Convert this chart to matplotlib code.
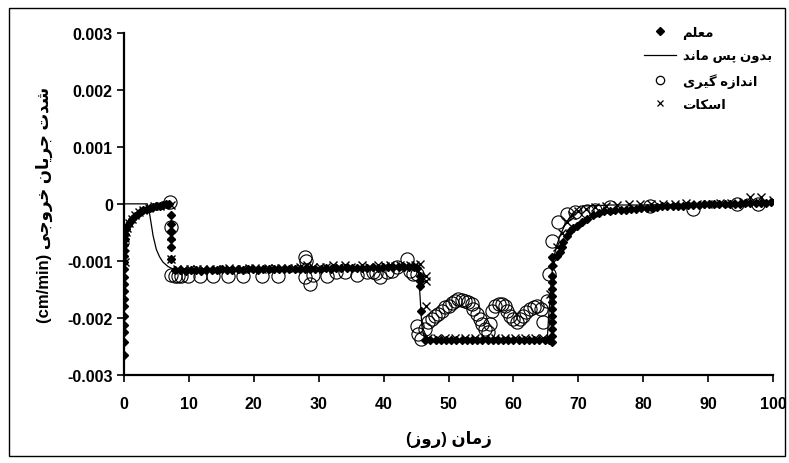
import matplotlib
matplotlib.use("Agg")
import matplotlib.pyplot as plt
from matplotlib.lines import Line2D
from matplotlib.patches import Rectangle

plt.rcParams['font.family'] = ['Liberation Sans', 'DejaVu Sans']
plt.rcParams['font.weight'] = 'bold'

# ---- data (time in days, flux in cm/min) ----
# Moallem model (filled diamonds)
t_moallem = [0, 0, 0, 0, 0, 0, 0, 0, 0, 0, 0, 0, 0, 0, 0, 0.1, 0.2,
             0.4, 0.7, 1.0, 1.3, 1.7, 2.1, 2.5, 3.0, 3.5, 4.0, 4.5, 5.0, 5.5, 6.0, 6.5, 7.0,
             7.3, 7.3, 7.3, 7.3, 7.3, 7.3,
             7.9, 8.7, 9.5, 10.3, 11.1, 11.9, 12.7, 13.5, 14.3, 15.1, 15.9, 16.7, 17.5, 18.3,
             19.1, 19.9, 20.7, 21.5, 22.3, 23.1, 23.9, 24.7, 25.5, 26.3, 27.1, 27.9, 28.7, 29.5,
             30.3, 31.1, 31.9, 32.7, 33.5, 34.3, 35.1, 35.9, 36.7, 37.5, 38.3, 39.1, 39.9, 40.7,
             41.5, 42.3, 43.1, 43.9, 44.7, 45.2,
             45.6, 45.6, 45.6, 45.8,
             46.4, 47.2, 48.0, 48.8, 49.6, 50.4, 51.2, 52.0, 52.8, 53.6, 54.4, 55.2, 56.0, 56.8,
             57.6, 58.4, 59.2, 60.0, 60.8, 61.6, 62.4, 63.2, 64.0, 64.8, 65.4,
             66.0, 66.0, 66.0, 66.0, 66.0, 66.0, 66.0, 66.0, 66.0, 66.0, 66.0, 66.0, 66.0,
             66.7, 67.2, 67.4, 67.7, 68.2, 68.7, 69.2, 69.8, 70.5, 71.3, 72.3, 73.1, 73.9,
             74.9, 75.7, 76.5, 77.3, 78.1, 78.9, 79.7, 80.5, 81.3, 82.1, 82.9, 83.7, 84.5,
             85.3, 86.1, 86.9, 87.7, 88.5, 89.3, 90.1, 90.9, 91.7, 92.5, 93.3, 94.1, 94.9,
             95.7, 96.5, 97.3, 98.1, 98.9, 99.7]
q_moallem = [-0.00265, -0.00243, -0.00224, -0.00213, -0.00196, -0.00180, -0.00167, -0.00153,
             -0.00140, -0.00128, -0.00114, -0.00102, -0.00091, -0.00082, -0.00072, -0.00062, -0.00053,
             -0.00044, -0.00037, -0.00031, -0.00026, -0.00021, -0.00017, -0.00014, -0.00011,
             -0.00009, -0.00007, -0.00006, -0.00004, -0.00003, -0.00002, -0.00001, -0.00001,
             -0.00020, -0.00036, -0.00047, -0.00061, -0.00076, -0.00096,
             -0.00116, -0.00116, -0.00117, -0.00116, -0.00116, -0.00117, -0.00116, -0.00116, -0.00116,
             -0.00115, -0.00116, -0.00116, -0.00115, -0.00116, -0.00115, -0.00115, -0.00116, -0.00115,
             -0.00115, -0.00114, -0.00115, -0.00115, -0.00114, -0.00115, -0.00114, -0.00114, -0.00115,
             -0.00114, -0.00114, -0.00113, -0.00114, -0.00113, -0.00113, -0.00112, -0.00113, -0.00112,
             -0.00112, -0.00112, -0.00111, -0.00112, -0.00111, -0.00111, -0.00111, -0.00110, -0.00111,
             -0.00110, -0.00111, -0.00112,
             -0.00126, -0.00135, -0.00144, -0.00188,
             -0.00238, -0.00238, -0.00238, -0.00238, -0.00238, -0.00238, -0.00238, -0.00238, -0.00238,
             -0.00238, -0.00238, -0.00238, -0.00238, -0.00238, -0.00238, -0.00238, -0.00238, -0.00238,
             -0.00238, -0.00238, -0.00238, -0.00238, -0.00238, -0.00238, -0.00238,
             -0.00243, -0.00232, -0.00219, -0.00207, -0.00196, -0.00184, -0.00172, -0.00161, -0.00149,
             -0.00137, -0.00126, -0.00109, -0.00093,
             -0.00091, -0.00085, -0.00076, -0.00067, -0.00056, -0.00047, -0.00043, -0.00038, -0.00032,
             -0.00026, -0.00020, -0.00016, -0.00013,
             -0.00012, -0.00011, -0.00010, -0.00010, -0.00009, -0.00009, -0.00008, -0.00008, -0.00007,
             -0.00005, -0.00004, -0.00004, -0.00003, -0.00003, -0.00003, -0.00002, -0.00002, -0.00002,
             -0.00001, -0.00001, -0.00001, 0.0, 0.0, 0.0, 0.0, 0.0, 0.00001, 0.00001, 0.00001,
             0.00002, 0.00002, 0.00003]

# model without hysteresis (thin line)
t_nohyst = [0, 3.6, 4.0, 4.5, 5.0, 5.5, 6.0, 6.8, 7.5, 10, 20, 30, 40, 45.3, 45.6, 45.9,
            46.2, 46.6, 50, 60, 65.2, 65.4, 65.7, 66.1, 66.6, 67.2, 68.0, 69.0, 70.3,
            75, 80, 85, 90, 95, 100]
q_nohyst = [0, 0, -0.00020, -0.00056, -0.00080, -0.00093, -0.00102, -0.00110, -0.00114,
            -0.00115, -0.00114, -0.00112, -0.00111, -0.00111, -0.00160, -0.00215, -0.00232,
            -0.00238, -0.00238, -0.00238, -0.00238, -0.00200, -0.00155, -0.00100, -0.00075,
            -0.00055, -0.00035, -0.00018, -0.00004, -0.00002, -0.00002, -0.00001, 0.0,
            0.00001, 0.00002]

# measured (open circles)
t_measured = [7.1, 7.2, 7.3, 7.8, 8.3, 8.8, 9.9, 11.7, 13.7, 16.0, 18.3, 21.3, 23.8,
              27.9, 28.1, 27.9, 28.6, 29.2, 31.3, 32.6, 34.0, 35.9, 37.4, 38.3, 38.9, 39.4,
              40.5, 41.3, 42.1, 43.6, 44.1, 44.6, 45.1,
              45.1, 45.3, 45.8, 46.4, 46.9, 47.4, 47.9, 48.4, 49.0, 49.5, 50.0, 50.5, 51.0,
              51.5, 52.0, 52.5, 53.0, 53.6, 53.8, 54.4, 54.9, 55.1, 55.6, 56.1, 56.4, 56.7,
              57.2, 57.7, 58.2, 58.7, 59.0, 59.5, 60.0, 60.5, 61.0, 61.5, 62.0, 62.6, 63.1,
              63.6, 64.2, 64.6, 65.2, 65.4, 65.9, 66.8, 68.3, 69.5, 71.3, 72.5, 74.9, 81.0,
              87.7, 94.4, 97.7]
q_measured = [0.00003, -0.00040, -0.00125, -0.00127, -0.00127, -0.00127, -0.00127, -0.00126,
              -0.00126, -0.00126, -0.00126, -0.00126, -0.00126,
              -0.00094, -0.00100, -0.00128, -0.00140, -0.00125, -0.00126, -0.00120, -0.00120,
              -0.00125, -0.00120, -0.00120, -0.00122, -0.00128, -0.00120, -0.00118, -0.00110,
              -0.00097, -0.00118, -0.00123, -0.00123,
              -0.00214, -0.00228, -0.00237, -0.00219, -0.00207, -0.00202, -0.00196, -0.00193,
              -0.00188, -0.00181, -0.00179, -0.00174, -0.00170, -0.00167, -0.00168, -0.00170,
              -0.00172, -0.00175, -0.00184, -0.00193, -0.00202, -0.00210, -0.00219, -0.00225,
              -0.00210, -0.00188, -0.00179, -0.00175, -0.00175, -0.00179, -0.00188, -0.00196,
              -0.00202, -0.00207, -0.00202, -0.00196, -0.00190, -0.00184, -0.00181, -0.00179,
              -0.00184, -0.00207, -0.00170, -0.00123, -0.00065, -0.00032, -0.00018, -0.00015,
              -0.00012, -0.00010, -0.00005, -0.00003, -0.00009, 0.0, 0.0]

# Scott model (crosses)
t_scott = [0.1, 0.1, 0.2, 0.3, 0.5, 0.8, 1.2, 1.7, 2.3, 3.0, 3.8, 4.6, 5.5, 6.4, 7.2, 7.3, 7.3,
           8.2, 9.2, 10.2, 11.2, 12.2, 13.2, 14.2, 15.2, 16.2, 17.2, 18.2, 19.2, 20.2, 21.2,
           22.2, 23.2, 24.2, 25.2, 26.2, 27.2, 28.2, 29.2, 30.2, 31.2, 32.2, 33.2, 34.0, 35.0,
           36.6, 37.8, 39.2, 40.2, 41.0, 41.8, 42.5, 43.3, 44.1, 44.8, 45.6,
           46.5, 46.5, 46.6,
           46.9, 48.2, 49.5, 51.0, 52.6, 54.1, 55.6, 57.2, 58.7, 60.2, 61.8, 63.3, 64.6,
           65.7, 66.1, 66.7, 67.4, 68.2, 69.0, 70.0, 71.2, 72.6, 74.3, 76.0, 77.8, 79.5,
           81.2, 83.0, 84.8, 86.5, 88.3, 90.0, 91.8, 93.5, 95.3, 96.5, 98.1, 100]
q_scott = [-0.00102, -0.00075, -0.00060, -0.00050, -0.00042, -0.00034, -0.00026, -0.00020,
           -0.00014, -0.00010, -0.00007, -0.00004, -0.00003, -0.00002, -0.00002, -0.00056, -0.00096,
           -0.00114, -0.00114, -0.00115, -0.00114, -0.00114, -0.00115, -0.00114, -0.00114,
           -0.00113, -0.00114, -0.00114, -0.00113, -0.00113, -0.00114, -0.00113, -0.00112,
           -0.00113, -0.00112, -0.00112, -0.00111, -0.00108, -0.00110, -0.00111, -0.00110,
           -0.00108, -0.00110, -0.00108, -0.00110, -0.00108, -0.00110, -0.00108, -0.00109,
           -0.00107, -0.00109, -0.00108, -0.00109, -0.00108, -0.00107, -0.00105,
           -0.00126, -0.00135, -0.00180,
           -0.00236, -0.00236, -0.00236, -0.00236, -0.00236, -0.00236, -0.00236, -0.00236,
           -0.00236, -0.00236, -0.00236, -0.00236, -0.00236,
           -0.00158, -0.00102, -0.00075, -0.00052, -0.00032, -0.00020, -0.00013, -0.00009,
           -0.00005, -0.00003, -0.00002, -0.00001, -0.00001, 0.0, 0.0, 0.0, 0.00001, 0.0,
           0.0, 0.00001, 0.00002, 0.00004, 0.00012, 0.00012, 0.00006]

x_ticks = [0, 10, 20, 30, 40, 50, 60, 70, 80, 90, 100]
y_ticks = [-0.003, -0.002, -0.001, 0, 0.001, 0.002, 0.003]
y_tick_labels = ['-0.003', '-0.002', '-0.001', '0', '0.001', '0.002', '0.003']

label_moallem = 'معلم'
label_nohyst = 'بدون پس ماند'
label_measured = 'اندازه گیری'
label_scott = 'اسکات'
ylabel_words = 'شدت جریان خروجی'
ylabel_unit = '(cm/min)'
xlabel_word = 'زمان'
xlabel_unit = 'روز'

# ---- minimal Persian shaping: matplotlib draws glyphs left to right, unjoined ----
# isolated, final, initial, medial presentation forms
FORMS = {
    'ا': ('\ufe8d', '\ufe8e', None, None),
    'ب': ('\ufe8f', '\ufe90', '\ufe91', '\ufe92'),
    'پ': ('\ufb56', '\ufb57', '\ufb58', '\ufb59'),
    'ت': ('\ufe95', '\ufe96', '\ufe97', '\ufe98'),
    'ج': ('\ufe9d', '\ufe9e', '\ufe9f', '\ufea0'),
    'خ': ('\ufea5', '\ufea6', '\ufea7', '\ufea8'),
    'د': ('\ufea9', '\ufeaa', None, None),
    'ر': ('\ufead', '\ufeae', None, None),
    'ز': ('\ufeaf', '\ufeb0', None, None),
    'س': ('\ufeb1', '\ufeb2', '\ufeb3', '\ufeb4'),
    'ش': ('\ufeb5', '\ufeb6', '\ufeb7', '\ufeb8'),
    'ع': ('\ufec9', '\ufeca', '\ufecb', '\ufecc'),
    'ک': ('\ufb8e', '\ufb8f', '\ufb90', '\ufb91'),
    'گ': ('\ufb92', '\ufb93', '\ufb94', '\ufb95'),
    'ل': ('\ufedd', '\ufede', '\ufedf', '\ufee0'),
    'م': ('\ufee1', '\ufee2', '\ufee3', '\ufee4'),
    'ن': ('\ufee5', '\ufee6', '\ufee7', '\ufee8'),
    'ه': ('\ufee9', '\ufeea', '\ufeeb', '\ufeec'),
    'و': ('\ufeed', '\ufeee', None, None),
    'ی': ('\ufbfc', '\ufbfd', '\ufbfe', '\ufbff'),
}


def shape_word(word):
    out = []
    for i, ch in enumerate(word):
        iso, fin, ini, med = FORMS[ch]
        joins_prev = i > 0 and FORMS[word[i - 1]][2] is not None
        joins_next = i < len(word) - 1 and ini is not None
        if joins_prev and joins_next:
            out.append(med)
        elif joins_prev:
            out.append(fin)
        elif joins_next:
            out.append(ini)
        else:
            out.append(iso)
    return ''.join(reversed(out))


def rtl(text):
    # shape each word and put the words in visual (right to left) order
    return ' '.join(shape_word(w) for w in reversed(text.split(' ')))


# ---- figure ----
fig = plt.figure(figsize=(7.89, 4.64), dpi=100)
ax = fig.add_axes([0.157, 0.19, 0.823, 0.737])

ax.plot(t_nohyst, q_nohyst, color='black', lw=0.9, zorder=3)
ax.plot(t_measured, q_measured, ls='none', marker='o', ms=9.5, mfc='none',
        mec='black', mew=0.8, zorder=2)
ax.plot(t_moallem, q_moallem, ls='none', marker='D', ms=3.6, color='black', zorder=4)
ax.plot(t_scott, q_scott, ls='none', marker='x', ms=5.5, mew=1.0, color='black', zorder=5)

ax.set_xlim(0, 100)
ax.set_ylim(-0.003, 0.003)
ax.set_xticks(x_ticks)
ax.set_xticklabels([str(v) for v in x_ticks])
ax.set_yticks(y_ticks)
ax.set_yticklabels(y_tick_labels)
ax.tick_params(direction='out', length=5, width=1.2, labelsize=11.5, pad=3)
ax.tick_params(axis='x', pad=10)

for side in ['top', 'right']:
    ax.spines[side].set_visible(False)
for side in ['left', 'bottom']:
    ax.spines[side].set_linewidth(1.6)

ax.set_xlabel('(' + shape_word(xlabel_unit) + ') ' + shape_word(xlabel_word),
              fontsize=12, fontweight='bold', labelpad=14)
ax.set_ylabel(ylabel_unit + ' ' + rtl(ylabel_words), fontsize=12, fontweight='bold',
              labelpad=10)

handles = [
    Line2D([], [], ls='none', marker='D', ms=4, color='black'),
    Line2D([], [], color='black', lw=0.9),
    Line2D([], [], ls='none', marker='o', ms=6, mfc='none', mec='black', mew=0.9),
    Line2D([], [], ls='none', marker='x', ms=5, mew=0.9, color='black'),
]
labels = [rtl(label_moallem), rtl(label_nohyst), rtl(label_measured), rtl(label_scott)]
fig.legend(handles, labels, loc='upper right', bbox_to_anchor=(0.978, 0.942),
           frameon=False, fontsize=9.5, handlelength=2.4, handletextpad=0.5,
           labelspacing=0.8, borderpad=0, borderaxespad=0)

# frame around the whole chart
fig.patches.append(Rectangle((0.0114, 0.015), 0.984, 0.966, transform=fig.transFigure,
                             fill=False, ec='black', lw=1.0))

fig.savefig('out.png', dpi=100)
